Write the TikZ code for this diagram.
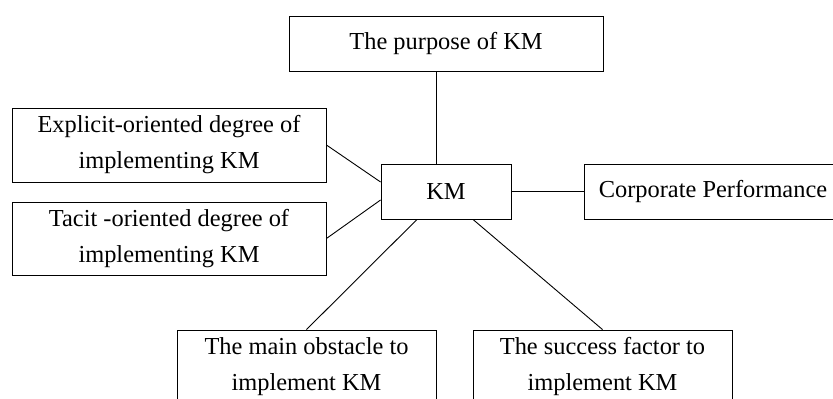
\documentclass[tikz,border=0pt]{standalone}
\usepackage{fontspec}
\setmainfont{Liberation Serif}
\usepackage{tikz}

\begin{document}
\begin{tikzpicture}[x=1pt,y=-1pt,line width=0.9pt,
  font=\fontsize{24.4}{36}\selectfont,
  box/.style={draw,align=center,inner sep=0pt,minimum height=55pt},
  tall/.style={box,minimum height=74pt}]
\useasboundingbox (0,0) rectangle (833,399);
\clip (0,0) rectangle (833,399);
\node[box,minimum width=314pt] (purpose) at (446,43.5) {The purpose of KM};
\node[box,minimum width=130pt] (km) at (446,191.5) {KM};
\node[box,minimum width=258pt] (corp) at (713,191.5) {Corporate Performance};
\node[tall,minimum width=314pt] (explicit) at (169,145) {Explicit-oriented degree of\\implementing KM};
\node[tall,minimum width=314pt,minimum height=73pt] (tacit) at (169,238.5) {Tacit -oriented degree of\\implementing KM};
\node[tall,minimum width=259pt] (obstacle) at (306.5,367) {The main obstacle to\\implement KM};
\node[tall,minimum width=259pt] (success) at (602.5,367) {The success factor to\\implement KM};
\draw ([xshift=-10pt]purpose.south) -- ([xshift=-10pt]km.north);
\draw (km.east) -- (corp.west);
\draw (explicit.east) -- ([yshift=9.5pt]km.west);
\draw (tacit.east) -- ([yshift=-8.5pt]km.west);
\draw ([xshift=-29pt]km.south) -- (obstacle.north);
\draw ([xshift=27pt]km.south) -- (success.north);
\end{tikzpicture}
\end{document}
